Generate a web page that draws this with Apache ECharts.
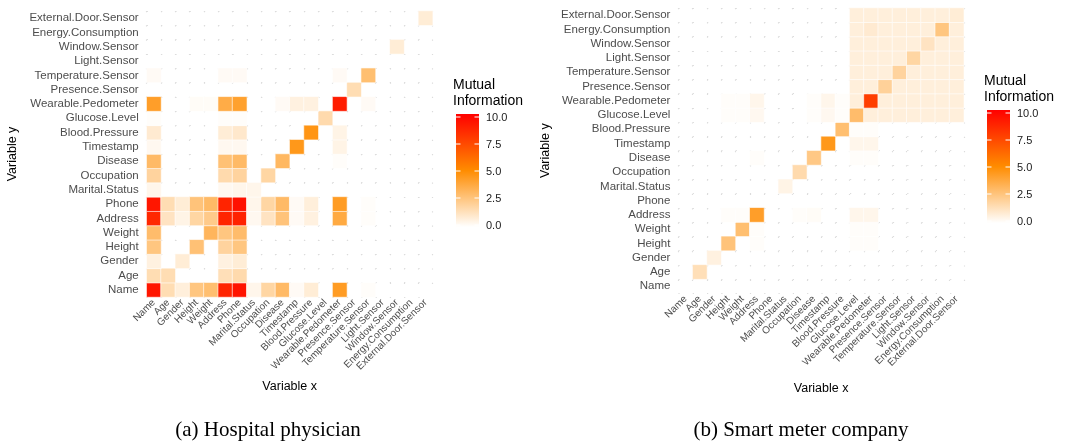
<!DOCTYPE html>
<html>
<head>
<meta charset="utf-8">
<script src="https://cdn.jsdelivr.net/npm/echarts@6/dist/echarts.min.js"></script>
<style>
  html, body { margin: 0; padding: 0; background: #fff; }
  #chart { width: 1065px; height: 443px; }
</style>
</head>
<body>
<div id="chart"></div>
<script>
// variables, same order on both axes (x left->right, y bottom->top)
const variables = [
  "Name", "Age", "Gender", "Height", "Weight", "Address", "Phone",
  "Marital.Status", "Occupation", "Disease", "Timestamp", "Blood.Pressure",
  "Glucose.Level", "Wearable.Pedometer", "Presence.Sensor", "Temperature.Sensor",
  "Light.Sensor", "Window.Sensor", "Energy.Consumption", "External.Door.Sensor"
];

// mutual information, one row per y variable (Name first), one column per x variable
const hospitalMI = [
  [9.2, 1.5, 0.7, 2.5, 2.8, 8.7, 9.3, 0.4, 1.8, 3.0, 0.2, 0.8, 0, 4.3, 0, 0.1, 0, 0, 0, 0],
  [1.5, 1.5, 0, 0, 0, 1.4, 1.6, 0, 0, 0, 0, 0, 0, 0, 0, 0, 0, 0, 0, 0],
  [0.6, 0, 0.8, 0, 0, 0.6, 0.8, 0, 0, 0, 0, 0, 0, 0, 0, 0, 0, 0, 0, 0],
  [2.5, 0, 0, 2.7, 0, 1.9, 2.5, 0, 0, 0, 0, 0, 0, 0, 0, 0, 0, 0, 0, 0],
  [2.9, 0, 0, 0, 3.2, 2.5, 2.9, 0, 0, 0, 0, 0, 0, 0, 0, 0, 0, 0, 0, 0],
  [8.6, 1.2, 0.5, 1.8, 2.3, 8.7, 8.8, 0.3, 1.2, 2.6, 0.2, 0.6, 0, 3.7, 0, 0.1, 0, 0, 0, 0],
  [9.2, 1.5, 0.8, 2.6, 3.0, 8.7, 9.4, 0.4, 1.8, 3.0, 0.2, 0.7, 0, 4.3, 0, 0.1, 0, 0, 0, 0],
  [0.4, 0, 0, 0, 0, 0.3, 0.4, 0.4, 0, 0, 0, 0, 0, 0, 0, 0, 0, 0, 0, 0],
  [1.9, 0, 0, 0, 0, 1.6, 1.9, 0, 1.8, 0, 0, 0, 0, 0, 0, 0, 0, 0, 0, 0],
  [3.0, 0, 0, 0, 0, 2.7, 3.0, 0, 0, 3.1, 0, 0, 0, 0.1, 0, 0, 0, 0, 0, 0],
  [0.3, 0, 0, 0, 0, 0.3, 0.3, 0, 0, 0, 4.5, 0, 0, 0.5, 0, 0, 0, 0, 0, 0],
  [0.9, 0, 0, 0, 0, 0.8, 1.0, 0, 0, 0, 0, 4.6, 0, 0.5, 0, 0, 0, 0, 0, 0],
  [0.1, 0, 0, 0, 0, 0.1, 0.1, 0, 0, 0, 0, 0, 1.6, 0, 0, 0, 0, 0, 0, 0],
  [4.2, 0, 0, 0.15, 0.15, 3.6, 4.1, 0, 0, 0.2, 0.6, 0.6, 0, 9.0, 0, 0.2, 0, 0, 0, 0],
  [0, 0, 0, 0, 0, 0, 0, 0, 0, 0, 0, 0, 0, 0, 1.5, 0, 0, 0, 0, 0],
  [0.2, 0, 0, 0, 0, 0.2, 0.2, 0, 0, 0, 0, 0, 0, 0.2, 0, 2.8, 0, 0, 0, 0],
  [0, 0, 0, 0, 0, 0, 0, 0, 0, 0, 0, 0, 0, 0, 0, 0, 0, 0, 0, 0],
  [0, 0, 0, 0, 0, 0, 0, 0, 0, 0, 0, 0, 0, 0, 0, 0, 0, 0.8, 0, 0],
  [0, 0, 0, 0, 0, 0, 0, 0, 0, 0, 0, 0, 0, 0, 0, 0, 0, 0, 0, 0],
  [0, 0, 0, 0, 0, 0, 0, 0, 0, 0, 0, 0, 0, 0, 0, 0, 0, 0, 0, 0.8]
];

const smartMeterMI = [
  [0, 0, 0, 0, 0, 0, 0, 0, 0, 0, 0, 0, 0, 0, 0, 0, 0, 0, 0, 0],
  [0, 1.4, 0, 0, 0, 0, 0, 0, 0, 0, 0, 0, 0, 0, 0, 0, 0, 0, 0, 0],
  [0, 0, 0.6, 0, 0, 0, 0, 0, 0, 0, 0, 0, 0, 0, 0, 0, 0, 0, 0, 0],
  [0, 0, 0, 2.6, 0, 0.1, 0, 0, 0, 0, 0, 0, 0.1, 0.1, 0, 0, 0, 0, 0, 0],
  [0, 0, 0, 0, 2.8, 0.1, 0, 0, 0, 0, 0, 0, 0.1, 0.1, 0, 0, 0, 0, 0, 0],
  [0, 0, 0, 0.1, 0.1, 4.2, 0, 0, 0.1, 0.15, 0, 0, 0.4, 0.4, 0, 0, 0, 0, 0, 0],
  [0, 0, 0, 0, 0, 0, 0, 0, 0, 0, 0, 0, 0, 0, 0, 0, 0, 0, 0, 0],
  [0, 0, 0, 0, 0, 0, 0, 0.5, 0, 0, 0, 0, 0, 0, 0, 0, 0, 0, 0, 0],
  [0, 0, 0, 0, 0, 0, 0, 0, 1.6, 0, 0, 0, 0, 0, 0, 0, 0, 0, 0, 0],
  [0, 0, 0, 0, 0, 0.1, 0, 0, 0, 2.4, 0, 0, 0.1, 0.1, 0, 0, 0, 0, 0, 0],
  [0, 0, 0, 0, 0, 0, 0, 0, 0, 0, 4.5, 0, 0.4, 0.4, 0, 0, 0, 0, 0, 0],
  [0, 0, 0, 0, 0, 0, 0, 0, 0, 0, 0, 2.8, 0.1, 0.1, 0, 0, 0, 0, 0, 0],
  [0, 0, 0, 0.1, 0.1, 0.3, 0, 0, 0, 0.1, 0.3, 0.1, 2.9, 0.7, 0.7, 0.7, 0.7, 0.7, 0.7, 0.7],
  [0, 0, 0, 0.1, 0.1, 0.4, 0, 0, 0, 0.1, 0.4, 0.1, 0.7, 7.8, 0.7, 0.7, 0.7, 0.7, 0.7, 0.7],
  [0, 0, 0, 0, 0, 0, 0, 0, 0, 0, 0, 0, 0.7, 0.7, 2.0, 0.7, 0.7, 0.7, 0.7, 0.7],
  [0, 0, 0, 0, 0, 0, 0, 0, 0, 0, 0, 0, 0.7, 0.7, 0.7, 1.9, 0.7, 0.7, 0.7, 0.7],
  [0, 0, 0, 0, 0, 0, 0, 0, 0, 0, 0, 0, 0.7, 0.7, 0.7, 0.7, 1.8, 0.7, 0.7, 0.7],
  [0, 0, 0, 0, 0, 0, 0, 0, 0, 0, 0, 0, 0.7, 0.7, 0.7, 0.7, 0.7, 1.2, 0.7, 0.7],
  [0, 0, 0, 0, 0, 0, 0, 0, 0, 0, 0, 0, 0.7, 0.9, 0.7, 0.7, 0.7, 0.7, 2.5, 0.7],
  [0, 0, 0, 0, 0, 0, 0, 0, 0, 0, 0, 0, 0.7, 0.7, 0.7, 0.7, 0.7, 0.7, 0.7, 0.8]
];

const legendTicks = [0, 2.5, 5, 7.5, 10];
const legendTitle = "Mutual\nInformation";
const captions = ["(a) Hospital physician", "(b) Smart meter company"];

const fillColors = ["#ffffff", "#ff8c00", "#ff0000"];

function toCells(matrix) {
  // zero cells are left empty so the background grid shows through
  return matrix
    .flatMap((row, y) => row.map((v, x) => [x, y, v]))
    .filter((d) => d[2] > 0);
}

// panel layout
const panels = [
  { left: 146.7, top: 11, size: 286, legX: 456, legTop: 114, capX: 268, nameGapX: 83, nameGapY: 128 },
  { left: 678.4, top: 8, size: 285.4, legX: 987, legTop: 110, capX: 801, nameGapX: 89, nameGapY: 126 }
];

let myChart = echarts.init(document.getElementById("chart"), null, { renderer: "canvas" });

function legendGraphics(p) {
  const barW = 23, barH = 113;
  const items = [];
  items.push({
    type: "text", left: p.legX - 3, top: p.legTop - 37,
    style: { text: legendTitle, font: "14px Liberation Sans, Arial", fill: "#000", lineHeight: 16 }
  });
  items.push({
    type: "rect", shape: { x: p.legX, y: p.legTop, width: barW, height: barH },
    style: {
      fill: new echarts.graphic.LinearGradient(0, 1, 0, 0, [
        { offset: 0, color: fillColors[0] },
        { offset: 0.5, color: fillColors[1] },
        { offset: 1, color: fillColors[2] }
      ])
    }
  });
  legendTicks.forEach((v) => {
    const y = p.legTop + 3 + (10 - v) / 10 * (barH - 5);
    items.push({ type: "line", shape: { x1: p.legX, y1: y, x2: p.legX + 4.5, y2: y }, style: { stroke: "#fff", lineWidth: 1 } });
    items.push({ type: "line", shape: { x1: p.legX + barW - 4.5, y1: y, x2: p.legX + barW, y2: y }, style: { stroke: "#fff", lineWidth: 1 } });
    items.push({
      type: "text", x: p.legX + barW + 7, y: y + 1,
      style: { text: v.toFixed(1), font: "11px Liberation Sans, Arial", fill: "#1a1a1a", verticalAlign: "middle" }
    });
  });
  return items;
}

const graphics = [];
panels.forEach((p, i) => {
  graphics.push(...legendGraphics(p));
  graphics.push({
    type: "text", x: p.capX, y: 430,
    style: { text: captions[i], font: "21px Liberation Serif, Times New Roman", fill: "#000", align: "center", verticalAlign: "middle" }
  });
});

// faint dots where the panel grid lines cross
const gridDots = { show: true, lineStyle: { color: "#dcdcdc", type: [1.2, 13.1], width: 1.2 } };

myChart.setOption({
  backgroundColor: "#fff",
  animation: false,
  grid: panels.map((p) => ({ left: p.left, top: p.top, width: p.size, height: p.size })),
  xAxis: panels.map((p, i) => ({
    type: "category",
    gridIndex: i,
    data: variables,
    axisLine: { show: false },
    axisTick: { show: false },
    axisLabel: {
      rotate: 45, interval: 0, margin: 4,
      color: "#4d4d4d", fontSize: 10, fontFamily: "Liberation Sans, Arial"
    },
    splitLine: gridDots,
    name: "Variable x",
    nameLocation: "middle",
    nameGap: p.nameGapX,
    nameTextStyle: { color: "#000", fontSize: 12.5, fontFamily: "Liberation Sans, Arial" }
  })),
  yAxis: panels.map((p, i) => ({
    type: "category",
    gridIndex: i,
    data: variables,
    axisLine: { show: false },
    axisTick: { show: false },
    axisLabel: {
      interval: 0, margin: 8,
      color: "#4d4d4d", fontSize: 11.5, fontFamily: "Liberation Sans, Arial"
    },
    splitLine: gridDots,
    name: "Variable y",
    nameLocation: "middle",
    nameRotate: 90,
    nameGap: p.nameGapY,
    nameTextStyle: { color: "#000", fontSize: 12.5, fontFamily: "Liberation Sans, Arial" }
  })),
  visualMap: [0, 1].map((i) => ({
    show: false,
    type: "continuous",
    seriesIndex: i,
    min: 0,
    max: 10,
    inRange: { color: fillColors }
  })),
  series: [hospitalMI, smartMeterMI].map((m, i) => ({
    type: "heatmap",
    xAxisIndex: i,
    yAxisIndex: i,
    data: toCells(m),
    itemStyle: { borderColor: "#fff", borderWidth: 0.6 },
    emphasis: { disabled: true }
  })),
  graphic: graphics
});
</script>
</body>
</html>
